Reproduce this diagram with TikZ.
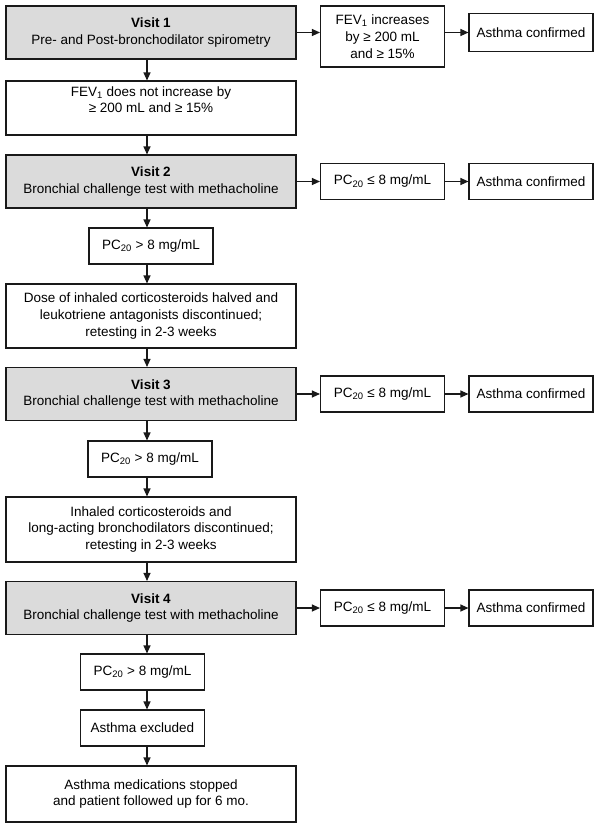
\documentclass[tikz,border=0pt]{standalone}
\usepackage{fontspec}
\setmainfont{Liberation Sans}
\usetikzlibrary{arrows.meta, positioning, calc}
\definecolor{boxGray}{gray}{0.86}
\definecolor{lineBlack}{gray}{0.1}

\tikzset{
    flowbox/.style={draw=lineBlack, line width=1.1pt, fill=white, align=center,
        inner sep=2pt, font=\fontsize{13.5}{16.8}\selectfont},
    visitbox/.style={flowbox, fill=boxGray, minimum width=290pt, minimum height=53pt},
    widebox/.style={flowbox, minimum width=290pt},
    smallbox/.style={flowbox, minimum width=124pt, minimum height=36pt},
    flowarrow/.style={->, line width=1.1pt, lineBlack}
}

\begin{document}
\begin{tikzpicture}[x=1pt, y=-1pt, >={Triangle[length=8pt, width=7pt]}]
    \useasboundingbox (0,0) rectangle (600,836);
    \coordinate (spine) at (147,0);

    % visit 1
    \node[visitbox] (v1) at (151,32.5) {\textbf{Visit 1}\\Pre- and Post-bronchodilator spirometry};
    \node[smallbox, minimum height=61pt] (f1) at (382.5,36.5) {FEV\textsubscript{1} increases\\by ≥ 200 mL\\and ≥ 15\%};
    \node[smallbox, minimum height=38pt] (a1) at (531,32.5) {Asthma confirmed};
    \node[widebox, minimum height=54pt] (n1) at (151,108) {FEV\textsubscript{1} does not increase by\\≥ 200 mL and ≥ 15\%\\\mbox{}};

    % visit 2
    \node[visitbox] (v2) at (151,181.5) {\textbf{Visit 2}\\Bronchial challenge test with methacholine};
    \node[smallbox] (r2) at (382.5,181.5) {PC\textsubscript{20} ≤ 8 mg/mL};
    \node[smallbox] (a2) at (531,181.5) {Asthma confirmed};
    \node[smallbox] (p2) at (151,246) {PC\textsubscript{20} > 8 mg/mL};
    \node[widebox, minimum height=64pt] (d2) at (151,316) {Dose of inhaled corticosteroids halved and\\leukotriene antagonists discontinued;\\retesting in 2-3 weeks};

    % visit 3
    \node[visitbox] (v3) at (151,394) {\textbf{Visit 3}\\Bronchial challenge test with methacholine};
    \node[smallbox] (r3) at (382.5,394) {PC\textsubscript{20} ≤ 8 mg/mL};
    \node[smallbox] (a3) at (531,394) {Asthma confirmed};
    \node[smallbox] (p3) at (150,459) {PC\textsubscript{20} > 8 mg/mL};
    \node[widebox, minimum height=65pt] (i3) at (151,529.5) {Inhaled corticosteroids and\\long-acting bronchodilators discontinued;\\retesting in 2-3 weeks};

    % visit 4
    \node[visitbox] (v4) at (151,608) {\textbf{Visit 4}\\Bronchial challenge test with methacholine};
    \node[smallbox] (r4) at (382.5,608) {PC\textsubscript{20} ≤ 8 mg/mL};
    \node[smallbox] (a4) at (531,608) {Asthma confirmed};
    \node[smallbox] (p4) at (142.5,672) {PC\textsubscript{20} > 8 mg/mL};
    \node[smallbox] (e4) at (142.5,728) {Asthma excluded};
    \node[widebox, minimum height=56pt] (s4) at (151,794) {Asthma medications stopped\\and patient followed up for 6 mo.};

    \draw[flowarrow] (v1.east) -- (v1.east -| f1.west);
    \draw[flowarrow] (f1.east |- a1.west) -- (a1.west);
    \draw[flowarrow] (v2.east) -- (r2.west);
    \draw[flowarrow] (r2.east) -- (a2.west);
    \draw[flowarrow] (v3.east) -- (r3.west);
    \draw[flowarrow] (r3.east) -- (a3.west);
    \draw[flowarrow] (v4.east) -- (r4.west);
    \draw[flowarrow] (r4.east) -- (a4.west);

    \draw[flowarrow] (v1.south -| spine) -- (n1.north -| spine);
    \draw[flowarrow] (n1.south -| spine) -- (v2.north -| spine);
    \draw[flowarrow] (v2.south -| spine) -- (p2.north -| spine);
    \draw[flowarrow] (p2.south -| spine) -- (d2.north -| spine);
    \draw[flowarrow] (d2.south -| spine) -- (v3.north -| spine);
    \draw[flowarrow] (v3.south -| spine) -- (p3.north -| spine);
    \draw[flowarrow] (p3.south -| spine) -- (i3.north -| spine);
    \draw[flowarrow] (i3.south -| spine) -- (v4.north -| spine);
    \draw[flowarrow] (v4.south -| spine) -- (p4.north -| spine);
    \draw[flowarrow] (p4.south -| spine) -- (e4.north -| spine);
    \draw[flowarrow] (e4.south -| spine) -- (s4.north -| spine);
\end{tikzpicture}
\end{document}
